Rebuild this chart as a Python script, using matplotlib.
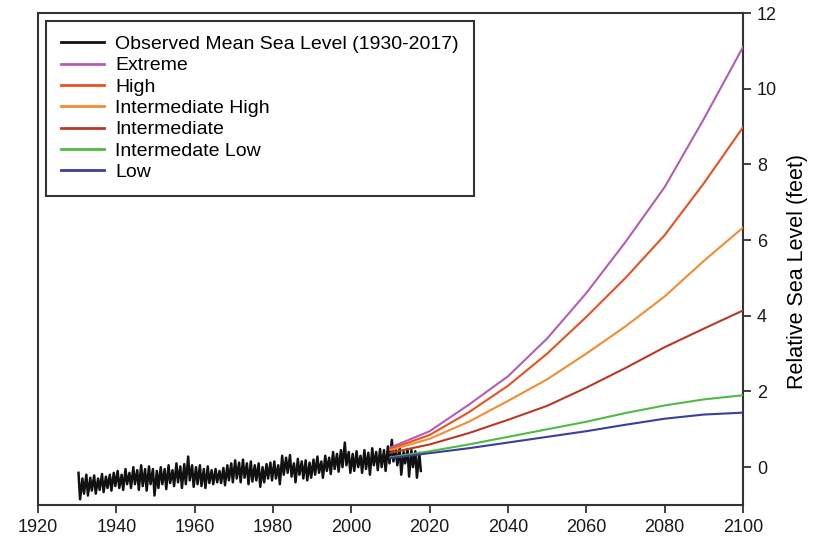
import numpy as np
import matplotlib
matplotlib.use("Agg")
import matplotlib.pyplot as plt

plt.rcParams['font.family'] = ['Liberation Sans', 'DejaVu Sans']

# observed monthly mean sea level, read as yearly high / low swing (feet)
obs_years = list(range(1930, 2018))
obs_high = [-0.15, -0.30, -0.20, -0.28, -0.22, -0.30, -0.18, -0.25, -0.20, -0.15,
            -0.10, -0.20, -0.05, -0.15, 0.00, -0.08, 0.05, -0.05, 0.02, -0.05,
            -0.10, 0.00, -0.05, 0.05, -0.08, 0.10, 0.02, 0.08, 0.28, 0.05,
            0.00, 0.05, -0.05, 0.02, -0.08, -0.05, -0.10, -0.02, 0.05, 0.10,
            0.18, 0.12, 0.20, 0.10, 0.15, 0.05, 0.10, 0.00, 0.08, 0.12,
            0.15, 0.05, 0.30, 0.25, 0.32, 0.10, 0.22, 0.15, 0.18, 0.12,
            0.20, 0.28, 0.15, 0.30, 0.25, 0.40, 0.35, 0.45, 0.65, 0.40,
            0.35, 0.42, 0.30, 0.45, 0.38, 0.50, 0.40, 0.48, 0.45, 0.55,
            0.72, 0.45, 0.50, 0.40, 0.48, 0.45, 0.42, 0.38]
obs_low = [-0.85, -0.70, -0.75, -0.62, -0.70, -0.60, -0.66, -0.55, -0.62, -0.50,
           -0.55, -0.60, -0.45, -0.55, -0.45, -0.60, -0.50, -0.62, -0.45, -0.75,
           -0.55, -0.45, -0.58, -0.42, -0.50, -0.40, -0.55, -0.45, -0.35, -0.52,
           -0.45, -0.50, -0.55, -0.42, -0.45, -0.40, -0.42, -0.48, -0.35, -0.40,
           -0.30, -0.40, -0.28, -0.45, -0.38, -0.35, -0.52, -0.40, -0.30, -0.35,
           -0.30, -0.45, -0.20, -0.15, -0.25, -0.40, -0.20, -0.30, -0.35, -0.28,
           -0.20, -0.15, -0.28, -0.10, -0.18, -0.05, -0.12, 0.00, 0.05, -0.15,
           -0.10, 0.00, -0.15, -0.05, -0.20, 0.05, -0.08, 0.00, -0.10, 0.10,
           0.15, 0.05, -0.20, 0.10, -0.25, 0.00, -0.28, -0.10]

# projection scenarios (feet)
proj_years = [2010, 2020, 2030, 2040, 2050, 2060, 2070, 2080, 2090, 2100]
extreme = [0.52, 0.95, 1.65, 2.40, 3.40, 4.60, 5.95, 7.40, 9.20, 11.10]
high = [0.48, 0.85, 1.45, 2.15, 3.00, 3.97, 5.00, 6.13, 7.50, 8.98]
int_high = [0.45, 0.75, 1.20, 1.75, 2.32, 3.00, 3.72, 4.51, 5.45, 6.33]
intermediate = [0.38, 0.60, 0.90, 1.25, 1.62, 2.10, 2.62, 3.17, 3.66, 4.14]
int_low = [0.26, 0.42, 0.60, 0.80, 1.00, 1.20, 1.43, 1.63, 1.79, 1.90]
low = [0.24, 0.37, 0.50, 0.65, 0.80, 0.95, 1.12, 1.28, 1.39, 1.44]

labels = ['Observed Mean Sea Level (1930-2017)', 'Extreme', 'High',
          'Intermediate High', 'Intermediate', 'Intermedate Low', 'Low']
colors = ['#111111', '#b35db5', '#ec4f24', '#f28c35', '#b83a26', '#52b848', '#3b3f98']

fig = plt.figure(figsize=(8.4, 5.43), dpi=100)
ax = fig.add_axes([0.0452, 0.07, 0.8393, 0.906])

# zigzag: high then low inside each year
t = []
v = []
for y, hi, lo in zip(obs_years, obs_high, obs_low):
    t += [y + 0.35, y + 0.75]
    v += [hi, lo]
ax.plot(t, v, color=colors[0], lw=1.8, label=labels[0], zorder=3)

for series, lab, c in zip([extreme, high, int_high, intermediate, int_low, low],
                          labels[1:], colors[1:]):
    ax.plot(proj_years, series, color=c, lw=1.5, label=lab, zorder=4)

ax.set_xlim(1920, 2100)
ax.set_ylim(-1, 12)
ax.set_xticks(range(1920, 2101, 20))
ax.set_yticks(range(0, 13, 2))

ax.yaxis.tick_right()
ax.yaxis.set_label_position('right')
ax.set_ylabel('Relative Sea Level (feet)', fontsize=15.5, labelpad=7)
ax.yaxis.label.set_y(0.475)

for s in ax.spines.values():
    s.set_color('#333333')
    s.set_linewidth(1.5)
ax.tick_params(axis='both', labelsize=13, width=1.3, length=6,
               color='#333333', labelcolor='#1a1a1a', pad=4)

leg = ax.legend(loc='upper left', bbox_to_anchor=(0.012, 0.984), fontsize=14,
                fancybox=False, framealpha=1, edgecolor='#333333',
                handlelength=2.2, handletextpad=0.6, labelspacing=0.19,
                borderpad=0.75, borderaxespad=0)
leg.get_frame().set_linewidth(1.5)
for line in leg.get_lines():
    line.set_linewidth(2.0)

fig.savefig('out.png', dpi=100)
